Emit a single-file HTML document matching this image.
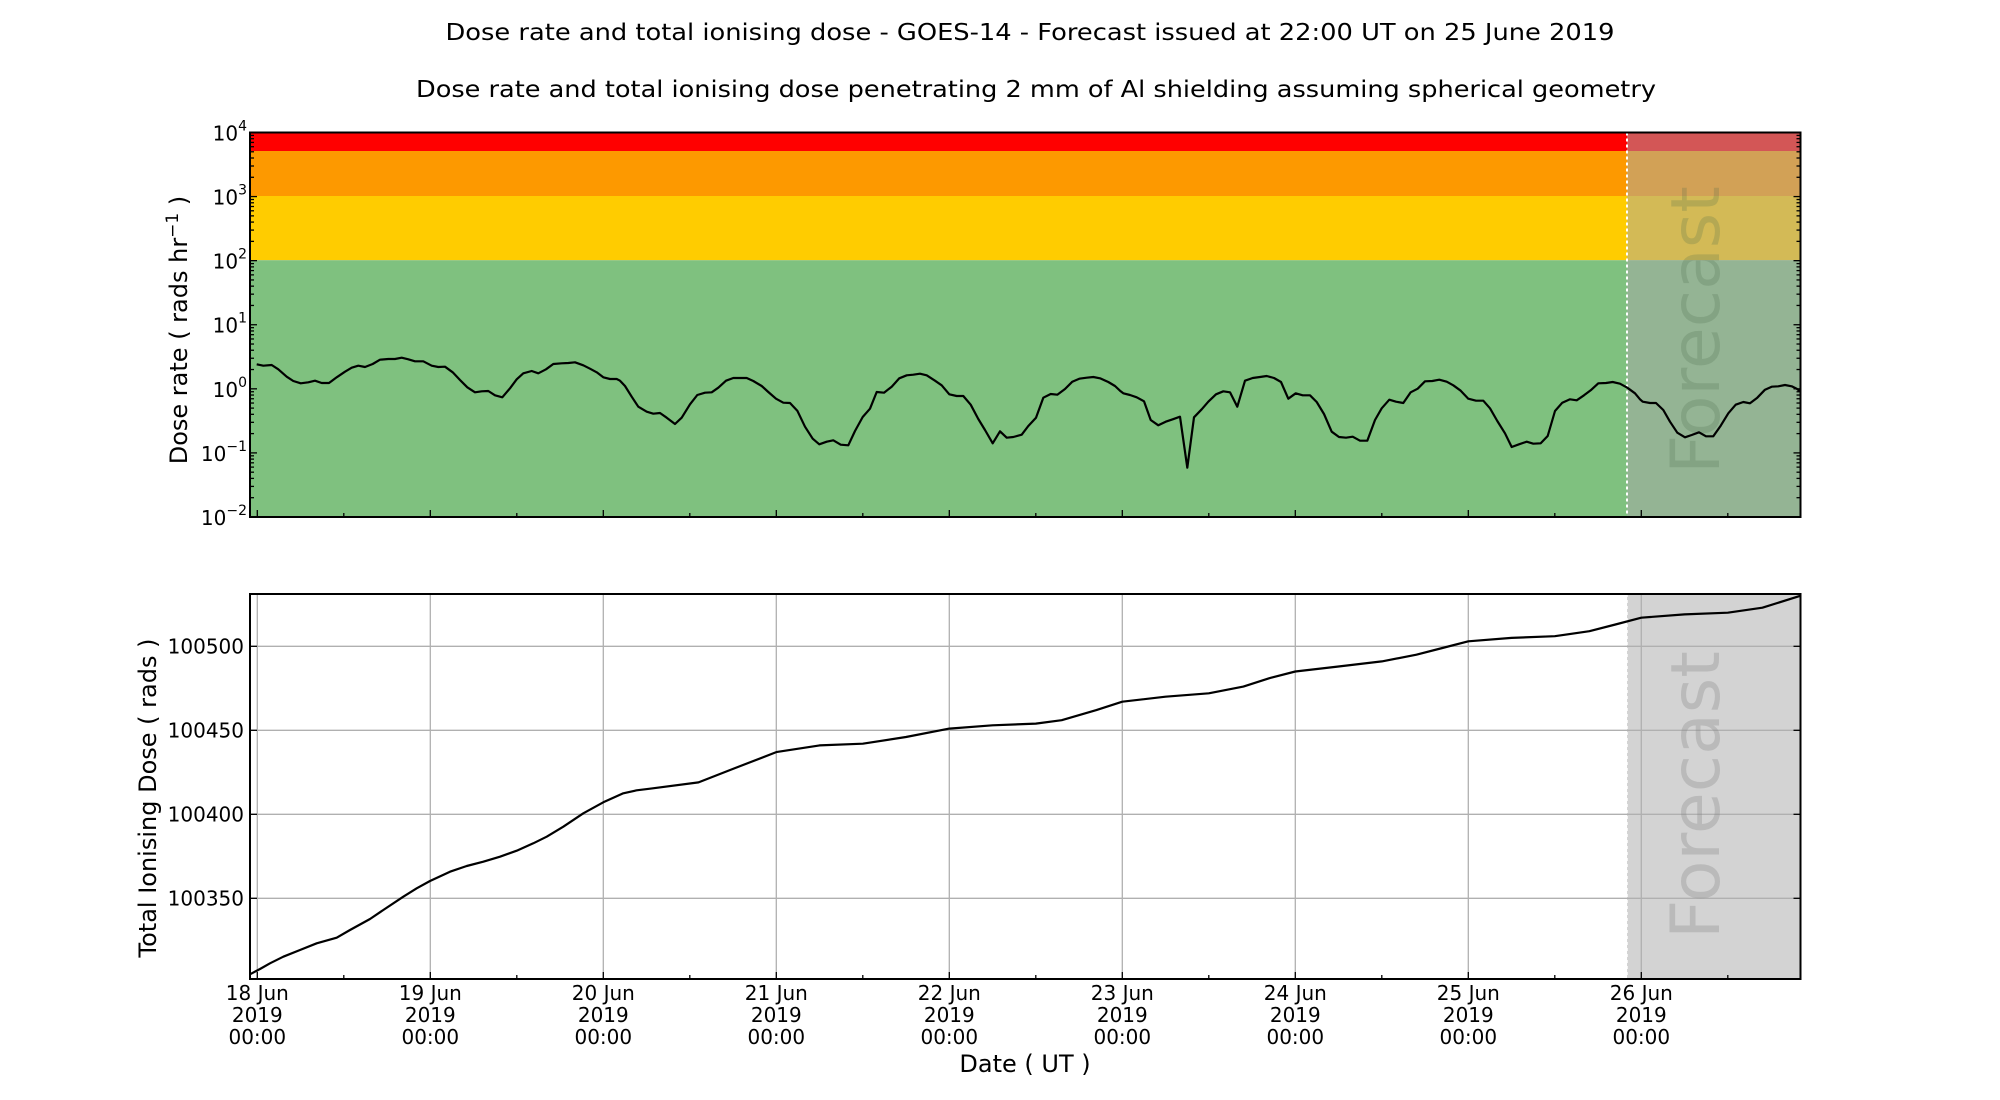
<!DOCTYPE html>
<html><head><meta charset="utf-8">
<style>
html,body{margin:0;padding:0;background:#fff;}
svg{display:block;font-family:"DejaVu Sans","Liberation Sans",sans-serif;}
</style></head>
<body>
<svg id="s" width="2000" height="1100" viewBox="0 0 2000 1100" xmlns="http://www.w3.org/2000/svg">
<rect width="2000" height="1100" fill="#fff"/>
<text x="1030" y="40" font-size="23" text-anchor="middle" textLength="1169" lengthAdjust="spacingAndGlyphs">Dose rate and total ionising dose - GOES-14 - Forecast issued at 22:00 UT on 25 June 2019</text>
<text x="1036" y="97" font-size="23" text-anchor="middle" textLength="1240" lengthAdjust="spacingAndGlyphs">Dose rate and total ionising dose penetrating 2 mm of Al shielding assuming spherical geometry</text>

<rect x="250" y="132.5" width="1550.5" height="18.5" fill="#ff0000"/>
<rect x="250" y="151" width="1550.5" height="45" fill="#fd9900"/>
<rect x="250" y="196" width="1550.5" height="64.2" fill="#ffcc00"/>
<rect x="250" y="260.2" width="1550.5" height="256.8" fill="#7fc17f"/>
<rect x="1627" y="132.5" width="173.5" height="384.5" fill="rgb(169,169,169)" fill-opacity="0.51"/>
<line x1="1627" y1="132.5" x2="1627" y2="517" stroke="#fff" stroke-width="2" stroke-dasharray="3,3"/>
<text transform="translate(1719,330) rotate(-90)" font-size="68" text-anchor="middle" fill="#4a6a4a" fill-opacity="0.22">Forecast</text>
<g id="topline"></g>
<rect x="250" y="132.5" width="1550.5" height="384.5" fill="none" stroke="#000" stroke-width="2"/>
<g id="topticks" stroke="#000" stroke-width="1.3"></g>
<g id="toplabels" font-size="20" text-anchor="end"></g>
<text transform="translate(187,330) rotate(-90)" font-size="24" text-anchor="middle">Dose rate ( rads hr<tspan font-size="17" dy="-9">−1</tspan><tspan dy="9"> )</tspan></text>

<rect x="1627" y="594" width="173.5" height="385" fill="#d3d3d3"/>
<line x1="1627" y1="594" x2="1627" y2="979" stroke="#fff" stroke-width="1.5" stroke-dasharray="3,3"/>
<g id="grid" stroke="#b0b0b0" stroke-width="1.3"></g>
<text transform="translate(1719,795) rotate(-90)" font-size="68" text-anchor="middle" fill="#808080" fill-opacity="0.3">Forecast</text>
<g id="botline"></g>
<rect x="250" y="594" width="1550.5" height="385" fill="none" stroke="#000" stroke-width="2"/>
<g id="botticks" stroke="#000" stroke-width="1.3"></g>
<g id="botlabels" font-size="20"></g>
<text transform="translate(156,798) rotate(-90)" font-size="24" text-anchor="middle">Total Ionising Dose ( rads )</text>
<text x="1025" y="1072" font-size="24" text-anchor="middle">Date ( UT )</text>
</svg>
<script>
var NS="http://www.w3.org/2000/svg";
function el(p,t,a,txt){var e=document.createElementNS(NS,t);for(var k in a)e.setAttribute(k,a[k]);if(txt!==undefined)e.textContent=txt;document.getElementById(p).appendChild(e);return e;}
var s1=[[320,793],[340,797],[365,795],[385,808],[410,830],[430,843],[452,850],[475,847],[495,842],[515,849],[537,849],[560,832],[585,815],[605,803],[625,797],[645,801],[668,792],[690,779],[715,777],[735,777],[755,773],[775,778],[795,784],[820,784],[845,797],[865,801],[885,800],[908,817],[930,840],[952,862],[975,877],[995,874],[1015,873],[1035,886],[1057,892],[1080,865],[1100,838],[1120,820],[1145,813],[1165,820],[1188,808],[1210,792],[1235,790],[1255,789],[1275,787],[1300,796],[1320,806],[1340,817],[1360,832],[1380,837],[1400,837]];
var s2=[[0,122],[15,138],[35,170],[55,200],[80,215],[100,221],[120,219],[140,233],[165,252],[185,233],[210,193],[232,165],[255,158],[275,157],[295,143],[318,122],[340,114],[380,114],[400,123],[425,138],[445,156],[468,176],[490,188],[510,189],[532,212],[555,260],[578,296],[598,313],[620,305],[640,301],[662,314],[685,316],[705,273],[728,231],[750,206],[770,156],[792,158],[815,140],[838,115],[860,106],[880,104],[900,101],[920,106],[945,122],[965,136],[988,163],[1010,168],[1030,168],[1052,194],[1075,237],[1095,270],[1118,310],[1140,274],[1160,293],[1180,291],[1205,284],[1225,258],[1248,233],[1270,173],[1292,162],[1312,164],[1335,147],[1357,125],[1378,116],[1400,113],[1420,111],[1440,115],[1465,126],[1485,138]];
var s3=[[0,152],[10,160],[30,165],[50,172],[72,184],[92,240],[115,256],[137,245],[158,238],[180,230],[202,383],[222,232],[245,208],[265,185],[288,163],[310,154],[330,157],[352,200],[375,122],[398,114],[420,111],[440,108],[462,114],[483,126],[505,176],[527,160],[548,166],[570,166],[590,186],[612,222],[635,275],[657,291],[678,293],[698,290],[720,302],[742,302],[765,240],[785,205],[808,179],[828,185],[850,189],[872,157],[893,146],[915,124],[937,123],[958,119],[980,125],[1000,136],[1022,152],[1045,176],[1068,182],[1090,182],[1110,205],[1132,243],[1155,280],[1175,321],[1197,313],[1220,305],[1240,311],[1262,310],[1283,288],[1305,213],[1327,188],[1350,178],[1370,181],[1392,166],[1412,151],[1435,130],[1458,129],[1478,126],[1500,131],[1522,143],[1545,160],[1560,178]];
var s4=[[428,905],[450,909],[468,909],[490,930],[510,965],[532,998],[555,1012],[575,1005],[597,997],[618,1009],[640,1009],[662,977],[685,940],[707,914],[730,906],[750,910],[772,893],[795,869],[815,860],[835,859],[855,855],[875,859],[890,866],[902,875]];
var pts=[];
s1.forEach(function(p){pts.push((150+p[0]/3).toFixed(1)+","+(100+p[1]/3).toFixed(1));});
s2.forEach(function(p){pts.push((620+p[0]/3).toFixed(1)+","+(340+p[1]/3).toFixed(1));});
s3.forEach(function(p){pts.push((1120+p[0]/3).toFixed(1)+","+(340+p[1]/3).toFixed(1));});
s4.forEach(function(p){pts.push((1500+p[0]/3).toFixed(1)+","+(100+p[1]/3).toFixed(1));});
el("topline","polyline",{points:pts.join(" "),fill:"none",stroke:"#000","stroke-width":2.2,"stroke-linejoin":"round"});
var zb=[[300,1183],[330,1167],[360,1150],[400,1130],[450,1110],[500,1090],[560,1073],[600,1050],[660,1017],[700,990],[760,950],[800,925],[840,903],[900,875],[950,858],[1000,845],[1050,830],[1100,812],[1150,790],[1190,770],[1240,740],[1300,700],[1360,667],[1420,640],[1460,631],[1500,626]];
var bp=[];
zb.forEach(function(p){bp.push([150+p[0]/3,580+p[1]/3]);});
function X(d){return 257.3+(d-18)*173;}
function Y(v){return 646.3+(100500-v)*1.68;}
var dv=[[20.55,100419],[20.75,100427],[21,100437],[21.25,100441],[21.5,100442],[21.75,100446],[22,100451],[22.25,100453],[22.5,100454],[22.65,100456],[22.85,100462],[23,100467],[23.25,100470],[23.5,100472],[23.7,100476],[23.85,100481],[24,100485],[24.25,100488],[24.5,100491],[24.7,100495],[24.85,100499],[25,100503],[25.25,100505],[25.5,100506],[25.7,100509],[25.85,100513],[26,100517],[26.25,100519],[26.5,100520],[26.7,100523],[26.917,100530]];
dv.forEach(function(p){bp.push([X(p[0]),Y(p[1])]);});
el("botline","polyline",{points:bp.map(function(p){return p[0].toFixed(1)+","+p[1].toFixed(1);}).join(" "),fill:"none",stroke:"#000","stroke-width":2.2,"stroke-linejoin":"round"});
var days=["18","19","20","21","22","23","24","25","26"];
for(var i=0;i<9;i++){
 var x=X(18+i);
 el("grid","line",{x1:x,y1:594,x2:x,y2:979});
 el("botticks","line",{x1:x,y1:979,x2:x,y2:972});
 el("topticks","line",{x1:x,y1:517,x2:x,y2:510});
 el("botlabels","text",{x:x,y:1000,"text-anchor":"middle"},days[i]+" Jun");
 el("botlabels","text",{x:x,y:1022,"text-anchor":"middle"},"2019");
 el("botlabels","text",{x:x,y:1044,"text-anchor":"middle"},"00:00");
 var xm=X(18.5+i);
 if(xm<1800){el("botticks","line",{x1:xm,y1:979,x2:xm,y2:975});el("topticks","line",{x1:xm,y1:517,x2:xm,y2:513});}
}
var vals=[100500,100450,100400,100350];
vals.forEach(function(v){var y=Y(v);
 el("grid","line",{x1:250,y1:y,x2:1800.5,y2:y});
 el("botticks","line",{x1:250,y1:y,x2:257,y2:y});
 el("botticks","line",{x1:1800.5,y1:y,x2:1793.5,y2:y});
 el("botlabels","text",{x:244,y:y+7,"text-anchor":"end"},String(v));
});
var exps=["4","3","2","1","0","−1","−2"];
for(var k=0;k<7;k++){
 var y=132.5+k*64.08;
 el("topticks","line",{x1:250,y1:y,x2:257,y2:y});
 el("topticks","line",{x1:1800.5,y1:y,x2:1793.5,y2:y});
 var t=el("toplabels","text",{x:247,y:y+8});
 var a=document.createElementNS(NS,"tspan");a.textContent="10";t.appendChild(a);
 var b=document.createElementNS(NS,"tspan");b.setAttribute("font-size","14");b.setAttribute("dy","-10");b.textContent=exps[k];t.appendChild(b);
 if(k<6){for(var m=2;m<10;m++){var ym=y+64.08-Math.log10(m)*64.08;
  el("topticks","line",{x1:250,y1:ym,x2:254,y2:ym});
  el("topticks","line",{x1:1800.5,y1:ym,x2:1796.5,y2:ym});}}
}
</script>
</body></html>
